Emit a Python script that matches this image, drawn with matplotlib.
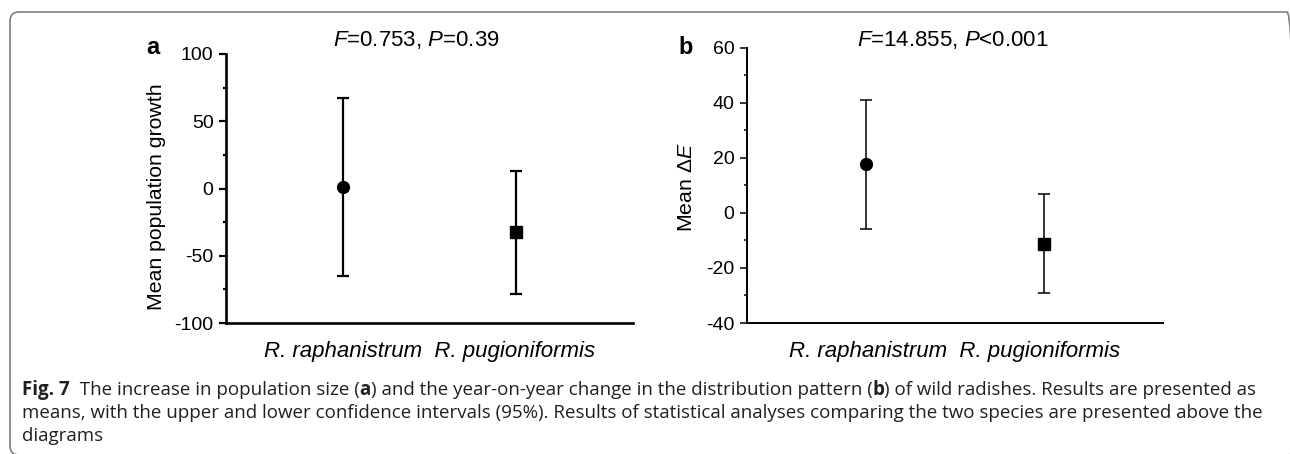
import numpy as np
import matplotlib
matplotlib.use("Agg")
import matplotlib.pyplot as plt
import matplotlib.font_manager as fm
from matplotlib.patches import FancyBboxPatch

# data (means with 95% CI bounds)
species = ["R. raphanistrum", "R. pugioniformis"]
growth_mean = [1.2, -32.7]
growth_upper = [67.3, 13.1]
growth_lower = [-64.9, -78.2]
delta_e_mean = [17.6, -11.5]
delta_e_upper = [41.0, 6.8]
delta_e_lower = [-5.9, -29.1]

growth_ticks = [-100, -50, 0, 50, 100]
delta_e_ticks = [-40, -20, 0, 20, 40, 60]

names = {f.name for f in fm.fontManager.ttflist}
chart_font = "Liberation Sans Narrow" if "Liberation Sans Narrow" in names else "Liberation Sans"
caption_font = "Open Sans"

plt.rcParams["font.family"] = [chart_font, "DejaVu Sans"]
plt.rcParams["mathtext.fontset"] = "custom"
plt.rcParams["mathtext.rm"] = chart_font
plt.rcParams["mathtext.it"] = chart_font + ":italic"
plt.rcParams["axes.unicode_minus"] = False

W, H = 1290, 454
fig = plt.figure(figsize=(W / 100, H / 100), dpi=100)


def px(x, y):
    """pixel position (origin top-left) -> figure fraction"""
    return x / W, 1 - y / H


def draw_panel(rect, means, upper, lower, ticks, minor_step, lw):
    ax = fig.add_axes(rect)
    x = np.arange(1, len(means) + 1)
    means = np.array(means)
    yerr = [means - np.array(lower), np.array(upper) - means]
    for xi, m, lo, hi, mk in zip(x, means, yerr[0], yerr[1], ["o", "s"]):
        ax.errorbar(xi, m, yerr=[[lo], [hi]], fmt=mk, color="black", ms=8.5,
                    elinewidth=lw, capsize=4, capthick=lw)
    ax.set_xlim(0.33, 2.67)
    ax.set_ylim(ticks[0], ticks[-1])
    ax.set_yticks(ticks)
    ax.set_yticks(np.arange(ticks[0], ticks[-1] + 0.1, minor_step), minor=True)
    ax.set_xticks([])
    for s in ["top", "right"]:
        ax.spines[s].set_visible(False)
    for s in ["left", "bottom"]:
        ax.spines[s].set_linewidth(lw + 0.3)
    ax.tick_params(axis="y", which="major", direction="out", length=5, width=lw,
                   labelsize=14, pad=4)
    ax.tick_params(axis="y", which="minor", direction="out", length=2.5, width=lw)
    return ax


ax_a = draw_panel([226 / W, 1 - 323 / H, 407 / W, 269 / H],
                  growth_mean, growth_upper, growth_lower, growth_ticks, 25, 1.6)
ax_b = draw_panel([747 / W, 1 - 323 / H, 416 / W, 275.5 / H],
                  delta_e_mean, delta_e_upper, delta_e_lower, delta_e_ticks, 10, 1.1)

# panel texts
fig.text(*px(416, 40), r"$\mathit{F}$=0.753, $\mathit{P}$=0.39", ha="center", va="center", fontsize=16)
fig.text(*px(953, 40), r"$\mathit{F}$=14.855, $\mathit{P}$<0.001", ha="center", va="center", fontsize=16)
fig.text(*px(153, 48), "a", ha="center", va="center", fontsize=17, fontweight="bold")
fig.text(*px(686, 47), "b", ha="center", va="center", fontsize=17, fontweight="bold")
fig.text(*px(156, 197), "Mean population growth", rotation=90, ha="center", va="center", fontsize=15.3)
fig.text(*px(686, 187), r"Mean $\mathit{ΔE}$", rotation=90, ha="center", va="center", fontsize=15.3)
xlab = "  ".join(species)
fig.text(*px(430, 352), xlab, ha="center", va="center", fontsize=16, style="italic")
fig.text(*px(955, 352), xlab, ha="center", va="center", fontsize=16, style="italic")

# caption with bold pieces
renderer = fig.canvas.get_renderer()


def caption_line(y, parts):
    x = 22
    for txt, bold in parts:
        t = fig.text(x / W, 1 - y / H, txt, ha="left", va="center", fontsize=13.5,
                     family=caption_font, color="#231f20",
                     fontweight="bold" if bold else "normal")
        x = t.get_window_extent(renderer).x1


caption_line(390, [("Fig. 7", True),
                   ("  The increase in population size (", False), ("a", True),
                   (") and the year-on-year change in the distribution pattern (", False),
                   ("b", True),
                   (") of wild radishes. Results are presented as", False)])
caption_line(413, [("means, with the upper and lower confidence intervals (95%). Results of "
                    "statistical analyses comparing the two species are presented above the", False)])
caption_line(436, [("diagrams", False)])

# rounded frame (clipped on right and bottom)
frame = FancyBboxPatch((10 / 100, -1 / 100), 1286 / 100, 443 / 100,
                       boxstyle="round,pad=0,rounding_size=0.09",
                       transform=fig.dpi_scale_trans, fill=False,
                       edgecolor="#7f7f7f", linewidth=1.2)
fig.patches.append(frame)

fig.savefig("out.png", dpi=100)
